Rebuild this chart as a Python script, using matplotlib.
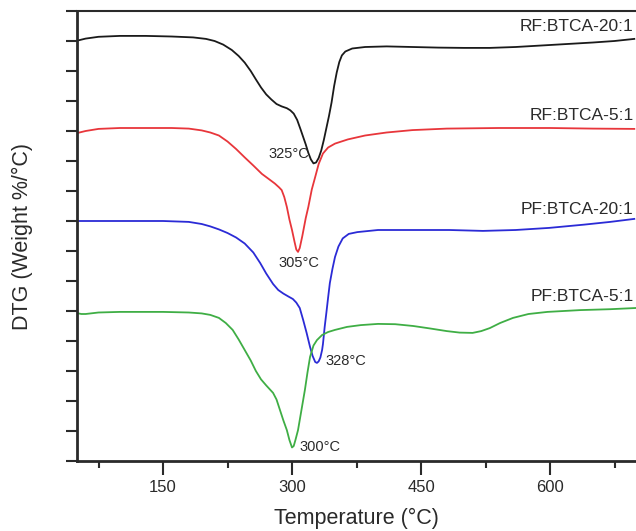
import numpy as np
import matplotlib
matplotlib.use('Agg')
import matplotlib.pyplot as plt

plt.rcParams['font.family'] = ['Liberation Sans', 'DejaVu Sans']

# temperature (C) and DTG values (curves are offset vertically)
t_rf20 = [50, 60, 75, 100, 130, 160, 185, 200, 210, 220, 230, 238, 245, 252, 258, 264, 270,
          276, 282, 288, 294, 298, 302, 306, 310, 313, 316, 319, 322, 325, 328, 331, 334,
          337, 340, 343, 346, 349, 352, 355, 358, 362, 370, 385, 410, 440, 470, 500, 530,
          560, 590, 620, 650, 675, 698]
v_rf20 = [14.01, 14.08, 14.14, 14.17, 14.17, 14.15, 14.12, 14.07, 14.0, 13.88, 13.7, 13.5,
          13.28, 13.0, 12.72, 12.45, 12.22, 12.05, 11.9, 11.82, 11.76, 11.69, 11.58, 11.37,
          11.05, 10.8, 10.55, 10.27, 10.05, 9.92, 9.95, 10.1, 10.35, 10.7, 11.1, 11.5, 11.95,
          12.5, 12.95, 13.3, 13.52, 13.65, 13.75, 13.8, 13.82, 13.8, 13.78, 13.77, 13.77,
          13.8, 13.85, 13.9, 13.95, 14.0, 14.07]

t_rf5 = [50, 60, 75, 100, 130, 160, 180, 195, 205, 215, 225, 235, 245, 255, 265, 273, 280,
         285, 288, 291, 294, 297, 300, 303, 305, 307, 309, 312, 316, 319, 323, 327, 331,
         336, 342, 350, 365, 385, 410, 440, 480, 540, 600, 650, 698]
v_rf5 = [10.93, 11.0, 11.07, 11.1, 11.1, 11.1, 11.08, 11.02, 10.95, 10.85, 10.65, 10.4,
         10.12, 9.85, 9.57, 9.4, 9.25, 9.12, 9.03, 8.8, 8.47, 8.05, 7.7, 7.3, 7.05, 6.97,
         7.1, 7.5, 8.1, 8.47, 9.05, 9.47, 9.9, 10.25, 10.45, 10.58, 10.72, 10.85, 10.95,
         11.03, 11.08, 11.1, 11.1, 11.08, 11.07]

t_pf20 = [50, 100, 150, 180, 195, 205, 215, 225, 235, 245, 255, 263, 270, 278, 284, 290,
          296, 301, 305, 309, 313, 317, 321, 324, 327, 329, 331, 333, 335, 336, 338, 340,
          342, 344, 347, 350, 354, 359, 366, 376, 400, 440, 483, 522, 560, 599, 640, 670, 698]
v_pf20 = [8.0, 8.0, 8.0, 7.97, 7.9, 7.82, 7.72, 7.6, 7.45, 7.25, 6.95, 6.6, 6.25, 5.9, 5.7,
          5.58, 5.48, 5.4, 5.28, 5.1, 4.7, 4.27, 3.8, 3.5, 3.3, 3.27, 3.32, 3.45, 3.7, 3.9,
          4.47, 4.95, 5.45, 5.93, 6.4, 6.8, 7.15, 7.42, 7.57, 7.63, 7.7, 7.7, 7.7, 7.67, 7.7,
          7.77, 7.88, 7.97, 8.07]

t_pf5 = [50, 55, 60, 75, 100, 150, 180, 195, 205, 215, 223, 231, 238, 245, 252, 258, 264,
         270, 278, 282, 286, 290, 294, 297, 300, 302, 304, 307, 311, 315, 318, 321, 325,
         329, 335, 342, 350, 364, 380, 400, 420, 441, 460, 480, 495, 510, 520, 530, 542,
         557, 575, 597, 635, 670, 700]
v_pf5 = [4.93, 4.9, 4.9, 4.95, 4.97, 4.97, 4.95, 4.92, 4.87, 4.77, 4.6, 4.37, 4.05, 3.7,
         3.35, 3.0, 2.72, 2.52, 2.27, 2.05, 1.7, 1.35, 1.03, 0.7, 0.45, 0.5, 0.7, 1.03, 1.7,
         2.37, 2.95, 3.47, 3.85, 4.03, 4.2, 4.3, 4.37, 4.47, 4.53, 4.57, 4.56, 4.5, 4.42,
         4.33, 4.28, 4.27, 4.33, 4.43, 4.6, 4.77, 4.9, 4.97, 5.03, 5.06, 5.1]

names = ['RF:BTCA-20:1', 'RF:BTCA-5:1', 'PF:BTCA-20:1', 'PF:BTCA-5:1']
name_y = [14.47, 11.53, 8.37, 5.47]

peak_labels = ['325°C', '305°C', '328°C', '300°C']
peak_x = [296.5, 308, 363, 332.6]
peak_y = [10.23, 6.6, 3.33, 0.47]

colors = ['#1a1a1a', '#e8363b', '#2b2bd6', '#3fae45']

fig = plt.figure(figsize=(6.36, 5.31), dpi=100)
ax = fig.add_axes([77/636, 1 - 461/531, 1 - 77/636, 450/531])

for t, v, c in zip([t_rf20, t_rf5, t_pf20, t_pf5], [v_rf20, v_rf5, v_pf20, v_pf5], colors):
    ax.plot(t, v, color=c, lw=1.3, solid_joinstyle='round')

for n, y in zip(names, name_y):
    ax.text(697.5, y, n, ha='right', va='center', fontsize=12.5, color='#2a2a2a')

for lab, x, y in zip(peak_labels, peak_x, peak_y):
    ax.text(x, y, lab, ha='center', va='center', fontsize=10.5, color='#2a2a2a')

ax.set_xlim(50, 700)
ax.set_ylim(0, 15)
ax.set_xticks([150, 300, 450, 600])
ax.set_xticks([75, 225, 375, 525, 675], minor=True)
ax.set_yticks(np.arange(0, 16))
ax.set_yticklabels([])
ax.tick_params(axis='x', which='major', direction='out', length=10, width=1.5,
               labelsize=12, pad=4, colors='#2a2a2a')
ax.tick_params(axis='x', which='minor', direction='out', length=5, width=1.5, colors='#2a2a2a')
ax.tick_params(axis='y', direction='out', length=8, width=1.5, colors='#2a2a2a')

ax.spines['right'].set_visible(False)
ax.spines['left'].set_linewidth(2)
ax.spines['bottom'].set_linewidth(2)
ax.spines['top'].set_linewidth(1.5)
for s in ['left', 'bottom', 'top']:
    ax.spines[s].set_color('#2a2a2a')

ax.set_xlabel('Temperature (°C)', fontsize=15.5, color='#2a2a2a')
ax.set_ylabel('DTG (Weight %/°C)', fontsize=15.5, color='#2a2a2a')
ax.xaxis.set_label_coords(0.5, (461 - 518) / 450)
ax.xaxis.label.set_va('center')
ax.yaxis.set_label_coords((22 - 77) / 559, 0.5)
ax.yaxis.label.set_va('center')

fig.savefig('out.png', dpi=100)
